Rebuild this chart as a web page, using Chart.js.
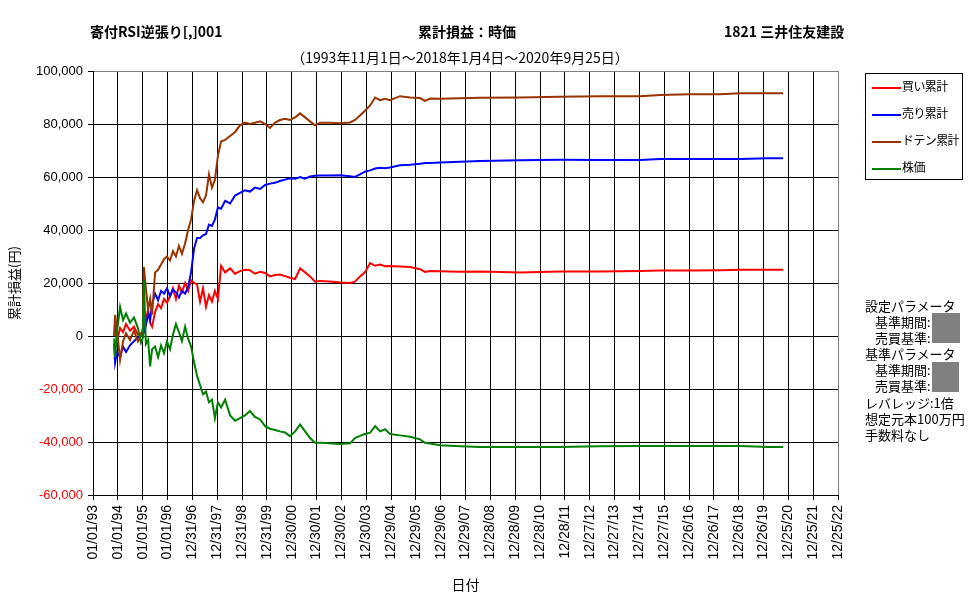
<!DOCTYPE html>
<html>
<head>
<meta charset="utf-8">
<script src="https://cdn.jsdelivr.net/npm/chart.js@4"></script>
<style>
body{margin:0;background:#fff;font-family:"Noto Sans CJK JP",sans-serif;color:#000;}
#wrap{position:relative;width:977px;height:600px;overflow:hidden;}
canvas{position:absolute;left:0;top:0;}
.t{position:absolute;white-space:nowrap;line-height:20px;}
.c{transform:translateX(-50%);}
.hd{font-size:14px;font-weight:bold;top:21px;}
#legend{position:absolute;left:865px;top:73px;width:96px;height:105px;border:1px solid #000;}
.li{position:absolute;left:6px;height:16px;font-size:12px;letter-spacing:-0.6px;line-height:16px;white-space:nowrap;}
.li i{display:inline-block;width:29px;height:2px;vertical-align:middle;margin-right:1px;}
#notes{position:absolute;left:865px;top:298px;font-size:13px;line-height:16.1px;white-space:nowrap;}
#notes .in{padding-left:10px;}
.gray{position:absolute;background:#808080;}
</style>
</head>
<body>
<div id="wrap">
<canvas id="chart" width="977" height="600"></canvas>
<div class="t hd" style="left:90px">寄付RSI逆張り[,]001</div>
<div class="t hd c" style="left:467px">累計損益：時価</div>
<div class="t hd" style="left:724px">1821 三井住友建設</div>
<div class="t c" style="left:460px;top:47px;font-size:14px">（1993年11月1日～2018年1月4日～2020年9月25日）</div>
<div id="legend"></div>
<div id="notes"></div>
<div class="gray" style="left:932px;top:313px;width:28px;height:30px"></div>
<div class="gray" style="left:932px;top:362px;width:27px;height:30px"></div>
</div>
<script>
// x = years counted from 01/01/93 (one gridline per 365 days)
const yrs=[0.85,0.89,0.97,1.09,1.21,1.33,1.49,1.65,1.81,1.93,
  2.01,2.05,2.13,2.22,2.30,2.38,2.50,2.62,2.74,2.86,
  2.98,3.10,3.22,3.34,3.46,3.58,3.71,3.83,3.95,4.07,
  4.19,4.31,4.43,4.55,4.67,4.79,4.91,5.03,5.16,5.32,
  5.52,5.72,5.92,6.12,6.32,6.52,6.73,6.93,7.13,7.33,
  7.53,7.73,7.93,8.14,8.34,8.54,8.74,8.94,9.14,9.54,
  9.95,10.35,10.55,10.75,10.95,11.16,11.36,11.56,11.76,11.96,
  12.36,12.77,13.17,13.37,13.57,13.97,14.78,15.59,17.20,18.81,
  20.42,22.03,22.84,24.04,25.25,26.06,27.18,27.79];

const buySum=[0,4000,-2000,3000,1500,4500,2000,3500,500,1000,
  0,2000,6000,10000,5000,3500,9000,12000,10500,14000,
  12500,15000,18000,14000,19000,16500,20000,17000,21000,20000,
  19500,13000,18000,11000,15500,13000,17000,14000,26500,24000,
  25500,23500,24500,25000,24800,23500,24200,23800,22500,23000,
  23200,22600,22000,21500,25500,24000,22500,20500,20800,20600,
  20200,20000,20500,22500,24000,27500,26500,27000,26300,26400,
  26200,26000,25200,24200,24500,24400,24200,24300,24000,24300,
  24300,24500,24700,24700,24800,25000,25000,25000];

const sellSum=[-3000,-10000,-6000,-8000,-4000,-6000,-3500,-2000,-500,0,
  500,1500,4000,8500,6000,12000,16000,13500,17000,16000,
  18000,15000,17500,16500,14500,17000,16000,18500,24000,33000,
  37000,37000,38000,38500,42000,41500,44000,48500,48000,51000,
  50000,53000,54000,55000,54500,56000,55500,57000,57500,57800,
  58500,59000,59500,59300,60000,59400,60200,60500,60600,60600,
  60700,60300,60000,61000,62000,62500,63200,63500,63300,63600,
  64400,64600,65000,65300,65300,65500,65800,66000,66300,66500,
  66400,66400,66800,66800,66800,66800,67100,67100];

const dotenSum=[0,8000,2000,-9000,-2000,1000,-1500,2000,-2000,0,
  3000,26000,18000,10000,14000,8000,24000,25000,27000,29000,
  30000,28500,32000,30000,34000,31000,35000,40000,44000,51000,
  55000,52000,50500,53000,61000,56000,59000,68000,73500,74000,
  75500,77000,79500,80500,80000,80500,81000,80000,78500,80500,
  81500,82000,81500,82500,84000,82500,81000,79500,80500,80500,
  80300,80600,81500,83200,85000,87000,90000,89000,89500,89000,
  90500,90000,89800,88700,89600,89500,89700,89900,90000,90300,
  90500,90500,90900,91200,91200,91600,91600,91600];

const price=[-1000,-8000,2000,11000,6000,8500,5000,7000,3000,-2500,
  -500,21000,-3000,-1500,-11500,-5000,-4000,-8000,-3500,-6500,
  -2000,-5000,500,4500,1500,-2000,3500,-1000,-4000,-10000,
  -15000,-18500,-22000,-21000,-25000,-24000,-31000,-25000,-27000,-24000,
  -30000,-32000,-31000,-30000,-28300,-30500,-31500,-34000,-35000,-35500,
  -36000,-36400,-37800,-36000,-33400,-36000,-38500,-40300,-40300,-40500,
  -40800,-40500,-38500,-37700,-37000,-36500,-34000,-36000,-35200,-37000,
  -37500,-38000,-39000,-40300,-40600,-41200,-41600,-41900,-41900,-41900,
  -41600,-41500,-41500,-41500,-41500,-41500,-41900,-41900];

const xLabels=["01/01/93","01/01/94","01/01/95","01/01/96","12/31/96","12/31/97","12/31/98","12/31/99",
  "12/30/00","12/30/01","12/30/02","12/30/03","12/29/04","12/29/05","12/29/06","12/29/07",
  "12/28/08","12/28/09","12/28/10","12/28/11","12/27/12","12/27/13","12/27/14","12/27/15",
  "12/26/16","12/26/17","12/26/18","12/26/19","12/25/20","12/25/21","12/25/22"];

const seriesNames=["買い累計","売り累計","ドテン累計","株価"];
const seriesColors=["#ff0000","#0000ff","#993300","#008000"];
const seriesData=[buySum,sellSum,dotenSum,price];

// [text, indented]
const notes=[["設定パラメータ",0],["基準期間:",1],["売買基準:",1],["基準パラメータ",0],["基準期間:",1],["売買基準:",1],
  ["レバレッジ:1倍",0],["想定元本100万円",0],["手数料なし",0]];

function pts(vals){return vals.map((v,i)=>({x:yrs[i],y:v}));}

document.getElementById("legend").innerHTML=seriesNames.map((n,i)=>
  `<div class="li" style="top:${4+i*27}px"><i style="background:${seriesColors[i]}"></i>${n}</div>`).join("");
document.getElementById("notes").innerHTML=notes.map(([s,ind])=>`<div class="${ind?"in":""}">${s}</div>`).join("");

const datasets=seriesData.map((d,i)=>({
  label:seriesNames[i],data:pts(d),borderColor:seriesColors[i],backgroundColor:seriesColors[i],
  borderWidth:2,pointRadius:0,tension:0,fill:false,order:4-i
}));

const tickFont={family:"Liberation Sans",size:13};
new Chart(document.getElementById("chart"),{
  type:"line",
  data:{datasets},
  options:{
    responsive:false,animation:false,
    layout:{padding:{left:0,top:71,right:139,bottom:0}},
    plugins:{legend:{display:false},tooltip:{enabled:false}},
    scales:{
      x:{
        type:"linear",min:0,max:30,
        afterFit:s=>{s.height=105;},
        ticks:{stepSize:1,autoSkip:false,minRotation:90,maxRotation:90,padding:5,
          font:{family:"Liberation Sans",size:14},color:"#000",
          callback:v=>xLabels[Math.round(v)]},
        grid:{color:c=>c.tick&&c.tick.value===30?"#808080":"#000",tickColor:"#000",tickLength:5,lineWidth:1},
        border:{color:"#000"},
        title:{display:true,text:"日付",color:"#000",font:{family:"Noto Sans CJK JP",size:14},padding:{top:0,bottom:7}}
      },
      y:{
        min:-60000,max:100000,
        afterFit:s=>{s.width=93;},
        ticks:{stepSize:20000,padding:5,font:tickFont,
          color:c=>c.tick.value<0?"#ff0000":"#000",
          callback:v=>v.toLocaleString("en-US")},
        grid:{color:c=>c.tick&&c.tick.value===100000?"#808080":"#000",tickColor:"#000",tickLength:5,lineWidth:1},
        border:{color:"#000"},
        title:{display:true,text:"累計損益(円)",color:"#000",font:{family:"Noto Sans CJK JP",size:13},padding:{top:6,bottom:0}}
      }
    }
  }
});
</script>
</body>
</html>
